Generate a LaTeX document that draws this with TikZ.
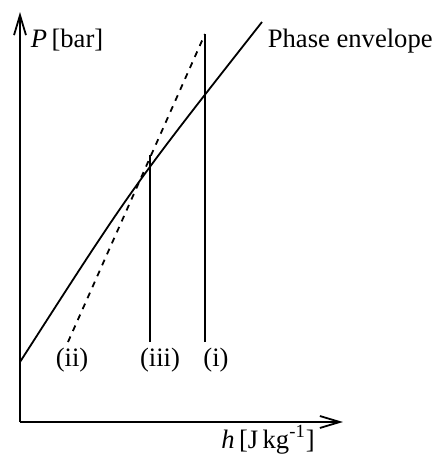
\documentclass[tikz,border=0pt]{standalone}
\usepackage{fontspec}
\setmainfont{Liberation Serif}
\usetikzlibrary{arrows.meta}
\begin{document}
\begin{tikzpicture}[x=0.5pt,y=0.5pt,>={Straight Barb[length=10pt,width=6pt]},line width=0.9pt,
  font=\fontsize{13.3}{16}\selectfont]
\useasboundingbox (0,0) rectangle (432,457);
\coordinate (origin) at (20,35);
\coordinate (ytip) at (20,445);
\coordinate (xtip) at (343,35);

\draw[->] (origin) -- (ytip);
\draw[->] (origin) -- (xtip);

\coordinate (envlow) at (20,95);
\coordinate (envbend) at (133,271);
\coordinate (envhigh) at (262,435);
\draw (envlow) .. controls (envbend) .. (envhigh);

\coordinate (twolow) at (68,115);
\coordinate (onelow) at (205,115);
\coordinate (onehigh) at (205,423);
\coordinate (threelow) at (150,115);
\coordinate (threehigh) at (150,302);
\draw[dashed] (twolow) -- (onehigh);
\draw (onelow) -- (onehigh);
\draw (threelow) -- (threehigh);

\node (labtwo) at (72,97) {(ii)};
\node (labthree) at (160,97) {(iii)};
\node (labone) at (216,97) {(i)};

\node[anchor=base west, inner sep=0pt] (ylab) at (30,410) {\textit{P}\,[bar]};
\node[anchor=base west, inner sep=0pt] (envlab) at (267,410) {Phase envelope};
\node[anchor=base, inner sep=0pt] (xlab) at (268,9) {\textit{h}\,[J\,kg\textsuperscript{-1}]};
\end{tikzpicture}
\end{document}
